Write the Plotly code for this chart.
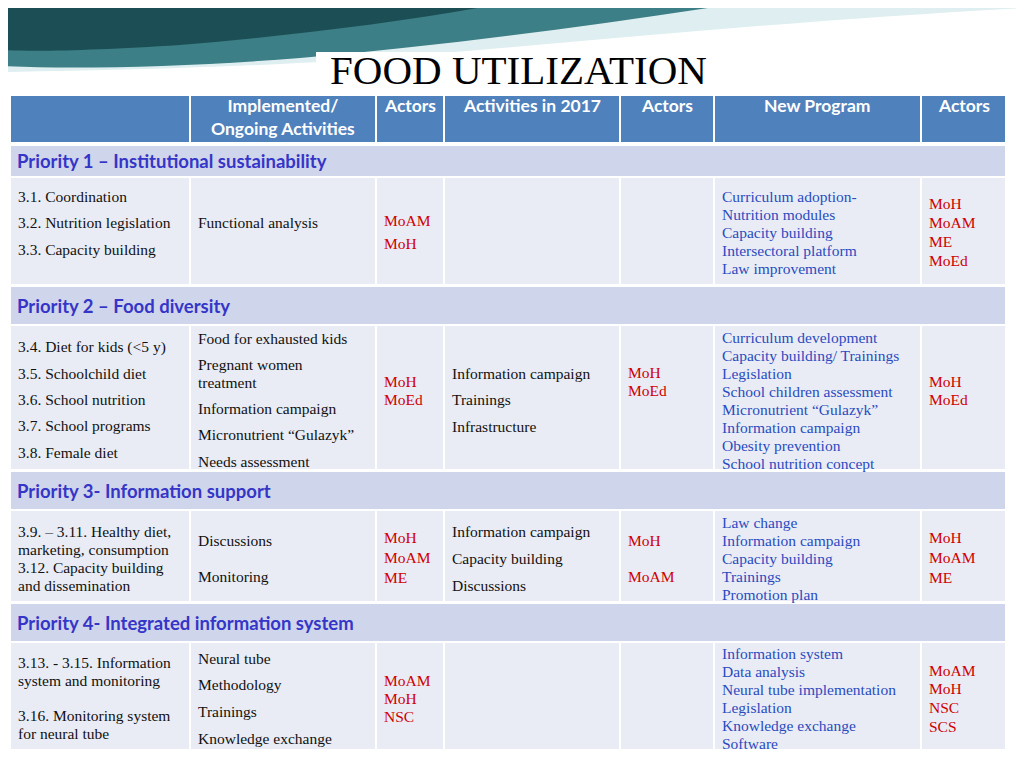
import plotly.graph_objects as go

title = "FOOD UTILIZATION"
headers = ["", "Implemented/<br>Ongoing Activities", "Actors", "Activities in 2017", "Actors", "New Program", "Actors"]
priorities = ["Priority 1 – Institutional sustainability", "Priority 2 – Food diversity",
              "Priority 3- Information support", "Priority 4- Integrated information system"]

row1 = [
    ["3.1. Coordination", "3.2. Nutrition legislation", "3.3. Capacity building"],
    ["Functional analysis"],
    ["MoAM", "MoH"],
    [], [],
    ["Curriculum adoption-", "Nutrition modules", "Capacity building", "Intersectoral platform", "Law improvement"],
    ["MoH", "MoAM", "ME", "MoEd"],
]
row2 = [
    ["3.4. Diet for kids (<5 y)", "3.5. Schoolchild diet", "3.6. School nutrition", "3.7. School programs", "3.8. Female diet"],
    ["Food for exhausted kids", "Pregnant women<br>treatment", "Information campaign", "Micronutrient “Gulazyk”", "Needs assessment"],
    ["MoH", "MoEd"],
    ["Information campaign", "Trainings", "Infrastructure"],
    ["MoH", "MoEd"],
    ["Curriculum development", "Capacity building/ Trainings", "Legislation", "School children assessment",
     "Micronutrient “Gulazyk”", "Information campaign", "Obesity prevention", "School nutrition concept"],
    ["MoH", "MoEd"],
]
row3 = [
    ["3.9. – 3.11. Healthy diet,<br>marketing, consumption", "3.12. Capacity building<br>and dissemination"],
    ["Discussions", "Monitoring"],
    ["MoH", "MoAM", "ME"],
    ["Information campaign", "Capacity building", "Discussions"],
    ["MoH", "MoAM"],
    ["Law change", "Information campaign", "Capacity building", "Trainings", "Promotion plan"],
    ["MoH", "MoAM", "ME"],
]
row4 = [
    ["3.13. - 3.15. Information<br>system and monitoring", "3.16. Monitoring system<br>for neural tube"],
    ["Neural tube", "Methodology", "Trainings", "Knowledge exchange"],
    ["MoAM", "MoH", "NSC"],
    [], [],
    ["Information system", "Data analysis", "Neural tube implementation", "Legislation", "Knowledge exchange", "Software"],
    ["MoAM", "MoH", "NSC", "SCS"],
]
rows = [row1, row2, row3, row4]

# layout (pixel geometry)
colx = [10, 190, 376, 444, 620, 714, 921, 1006]
hdr = (95, 143)
prio_bands = [(145, 177), (286, 325), (471, 510), (603, 642)]
data_bands = [(177, 285), (325, 470), (510, 602), (642, 750)]
place = [
    [(196, 26.5), (222, 0), (220, 23), None, None, (196, 18), (203, 19)],
    [(347, 26.3), (338, 26.3), (381, 18), (373, 26.5), (372, 18), (337, 18), (381, 18)],
    [(531, 18), (540, 36), (537, 20), (531, 27), (540, 36), (522, 18), (537, 20)],
    [(662, 35), (658, 26.7), (680, 18), None, None, (653, 18), (670, 18.7)],
]
colors = ["#111111", "#111111", "#d00000", "#111111", "#d00000", "#2a4bc0", "#d00000"]
LH = 18

shapes, ann = [], []
shapes.append(dict(type="path", path="M0,0 L1024,0 L1024,8 C800,20 600,40 420,55 C300,65 150,70 0,72 Z",
                   fillcolor="#dfeef0", line_width=0, layer="below"))
shapes.append(dict(type="path", path="M0,0 L760,0 C600,25 450,45 300,58 C200,66 80,70 0,66 Z",
                   fillcolor="#3c7f86", line_width=0, layer="below"))
shapes.append(dict(type="path", path="M0,0 L520,0 C420,20 300,35 180,45 C100,50 40,52 0,50 Z",
                   fillcolor="#1c4f55", line_width=0, layer="below"))
shapes.append(dict(type="rect", x0=316, x1=712, y0=52, y1=93, fillcolor="white", line_width=0))
ann.append(dict(x=518, y=95, yanchor="bottom", text=title, showarrow=False,
                font=dict(family="Liberation Serif", size=41, color="black")))

for i in range(7):
    shapes.append(dict(type="rect", x0=colx[i], x1=colx[i+1], y0=hdr[0], y1=hdr[1],
                       fillcolor="#4f81bd", line=dict(color="white", width=2)))
    if headers[i]:
        ann.append(dict(x=(colx[i]+colx[i+1])/2, y=hdr[0]-2, yanchor="top", text="<b>"+headers[i]+"</b>",
                        showarrow=False, font=dict(family="Lato", size=17.5, color="white")))

for r in range(4):
    p0, p1 = prio_bands[r]
    shapes.append(dict(type="rect", x0=colx[0], x1=colx[-1], y0=p0, y1=p1,
                       fillcolor="#cfd5ea", line=dict(color="white", width=2)))
    ann.append(dict(x=colx[0]+5, y=(p0+p1)/2, xanchor="left", text="<b>"+priorities[r]+"</b>",
                    showarrow=False, font=dict(family="Lato", size=18.5, color="#3535c8")))
    d0, d1 = data_bands[r]
    for c in range(7):
        shapes.append(dict(type="rect", x0=colx[c], x1=colx[c+1], y0=d0, y1=d1,
                           fillcolor="#e9ecf5", line=dict(color="white", width=2)))
        if not rows[r][c]:
            continue
        y, step = place[r][c]
        for entry in rows[r][c]:
            parts = entry.split("<br>")
            for k, line in enumerate(parts):
                ann.append(dict(x=colx[c]+6, y=y+k*LH, xanchor="left", text=line, showarrow=False,
                                font=dict(family="Liberation Serif", size=15.5, color=colors[c])))
            y += step + LH*(len(parts)-1)

fig = go.Figure()
fig.update_layout(width=1008, height=752, margin=dict(l=0, r=0, t=0, b=0),
                  paper_bgcolor="white", plot_bgcolor="white",
                  xaxis=dict(range=[8, 1016], visible=False, fixedrange=True),
                  yaxis=dict(range=[760, 8], visible=False, fixedrange=True),
                  shapes=shapes, annotations=ann, showlegend=False)
fig.write_html("out.html")
